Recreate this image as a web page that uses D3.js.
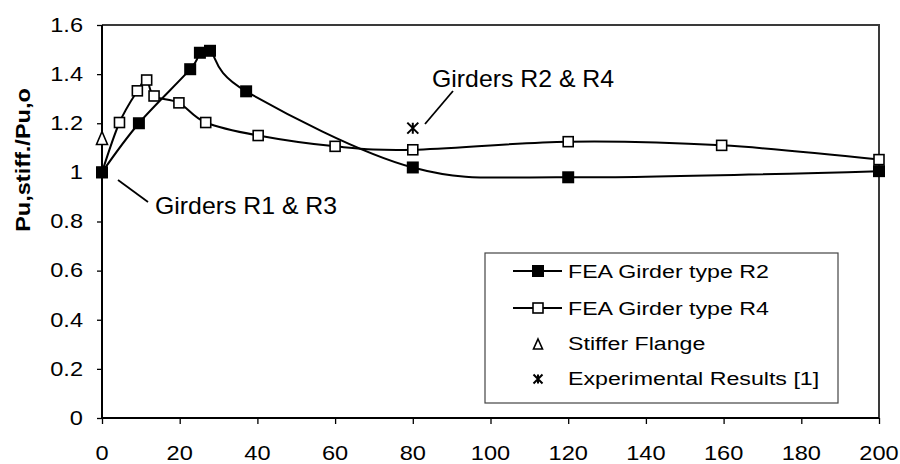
<!DOCTYPE html>
<html>
<head>
<meta charset="utf-8">
<script src="https://cdn.jsdelivr.net/npm/d3@7"></script>
<style>
  html, body { margin: 0; padding: 0; background: #fff; }
  svg { display: block; }
  text { font-family: "Liberation Sans", Arial, Helvetica, sans-serif; fill: #000; }
</style>
</head>
<body>
<svg id="chart" width="900" height="464"></svg>
<script>
// Girder type R2 (filled squares)
const r2X = [0, 9.5, 22.7, 25.2, 27.8, 37.1, 80, 120, 200];
const r2Y = [1.0, 1.2, 1.42, 1.487, 1.495, 1.33, 1.02, 0.98, 1.005];
// Girder type R4 (open squares)
const r4X = [0, 4.5, 9.1, 11.5, 13.4, 19.8, 26.7, 40.2, 60, 80, 120, 159.5, 200];
const r4Y = [1.0, 1.203, 1.332, 1.376, 1.311, 1.283, 1.203, 1.15, 1.106, 1.092, 1.125, 1.11, 1.052];
// Stiffer flange and experimental points
const flangeX = [0];
const flangeY = [1.14];
const expX = [80];
const expY = [1.18];

const xTicks = [0, 20, 40, 60, 80, 100, 120, 140, 160, 180, 200];
const yTicks = [0, 0.2, 0.4, 0.6, 0.8, 1, 1.2, 1.4, 1.6];
const yTitle = "Pu,stiff./Pu,o";
const legendLabels = ["FEA Girder type R2", "FEA Girder type R4", "Stiffer Flange", "Experimental Results [1]"];
const noteR1 = "Girders R1 & R3";
const noteR2 = "Girders R2 & R4";

const svg = d3.select("#chart");
const plotL = 102, plotR = 879, plotT = 25, plotB = 418;

const x = d3.scaleLinear().domain([0, 200]).range([plotL, plotR]);
const y = d3.scaleLinear().domain([0, 1.6]).range([plotB, plotT]);

// text with a horizontal stretch factor
function label(g, px, py, s, opt) {
  const o = Object.assign({ size: 20, sx: 1.15, anchor: "start", weight: "normal", rot: 0, base: "auto" }, opt || {});
  return g.append("text")
    .attr("transform", `translate(${px},${py}) rotate(${o.rot}) scale(${o.sx},1)`)
    .attr("text-anchor", o.anchor)
    .attr("dominant-baseline", o.base)
    .style("font-size", o.size + "px")
    .style("font-weight", o.weight)
    .text(s);
}

// plot area frame (top and right)
svg.append("path")
  .attr("d", `M${plotL},${plotT}H${plotR}V${plotB}`)
  .attr("fill", "none").attr("stroke", "#3a3a3a").attr("stroke-width", 2);

// axes
const xAxis = d3.axisBottom(x).tickValues(xTicks).tickSize(6).tickFormat("");
const yAxis = d3.axisLeft(y).tickValues(yTicks).tickSize(5).tickFormat("");
const gx = svg.append("g").attr("transform", `translate(0,${plotB})`).call(xAxis);
const gy = svg.append("g").attr("transform", `translate(${plotL},0)`).call(yAxis);
[gx, gy].forEach(g => {
  g.select(".domain").attr("stroke", "#000").attr("stroke-width", 2);
  g.selectAll(".tick line").attr("stroke", "#000").attr("stroke-width", 1.3);
});
gx.select(".domain").attr("d", `M${plotL},0H${plotR}`);
gy.select(".domain").attr("d", `M0,${plotT}V${plotB}`);

const tickG = svg.append("g");
xTicks.forEach(v => label(tickG, x(v), 460, String(v), { size: 20, sx: 1.18, anchor: "middle" }));
yTicks.forEach(v => label(tickG, 83, y(v), String(v), { size: 20, sx: 1.18, anchor: "end", base: "central" }));

label(svg, 23, 160, yTitle, { size: 21, sx: 1.12, anchor: "middle", weight: "bold", rot: -90, base: "central" });

// series lines
const line = d3.line().x(d => x(d[0])).y(d => y(d[1])).curve(d3.curveCatmullRom.alpha(0));
const r4 = r4X.map((v, i) => [v, r4Y[i]]);
const r2 = r2X.map((v, i) => [v, r2Y[i]]);
const lines = svg.append("g").attr("fill", "none").attr("stroke", "#000").attr("stroke-width", 2);
lines.append("path").attr("d", line(r4));
lines.append("path").attr("d", line(r2));

// markers
const openSq = 10, fillSq = 12;
svg.append("g").selectAll("rect").data(r4).join("rect")
  .attr("x", d => x(d[0]) - openSq / 2).attr("y", d => y(d[1]) - openSq / 2)
  .attr("width", openSq).attr("height", openSq)
  .attr("fill", "#fff").attr("stroke", "#000").attr("stroke-width", 1.6);
svg.append("g").selectAll("rect").data(r2).join("rect")
  .attr("x", d => x(d[0]) - fillSq / 2).attr("y", d => y(d[1]) - fillSq / 2)
  .attr("width", fillSq).attr("height", fillSq).attr("fill", "#000");

function triangle(g, cx, cy, w, h) {
  g.append("path")
    .attr("d", `M${cx},${cy - h / 2}L${cx + w / 2},${cy + h / 2}L${cx - w / 2},${cy + h / 2}Z`)
    .attr("fill", "#fff").attr("stroke", "#000").attr("stroke-width", 1.6);
}
function asterisk(g, cx, cy, r) {
  g.append("path")
    .attr("d", `M${cx - r},${cy - r}L${cx + r},${cy + r}M${cx + r},${cy - r}L${cx - r},${cy + r}M${cx},${cy - r}V${cy + r}`)
    .attr("stroke", "#000").attr("stroke-width", 2).attr("fill", "none");
}
const pts = svg.append("g");
flangeX.forEach((v, i) => triangle(pts, x(v), y(flangeY[i]), 11, 13));
expX.forEach((v, i) => asterisk(pts, x(v), y(expY[i]), 5.5));

// annotations
const notes = svg.append("g");
notes.append("line").attr("x1", 118).attr("y1", 180).attr("x2", 148).attr("y2", 202)
  .attr("stroke", "#000").attr("stroke-width", 1.8);
label(notes, 155, 214, noteR1, { size: 23, sx: 1.08 });
notes.append("line").attr("x1", 425).attr("y1", 124).attr("x2", 453).attr("y2", 91)
  .attr("stroke", "#000").attr("stroke-width", 1.8);
label(notes, 432, 87, noteR2, { size: 23, sx: 1.08 });

// legend
const lg = svg.append("g");
lg.append("rect").attr("x", 485).attr("y", 253).attr("width", 353).attr("height", 150)
  .attr("fill", "#fff").attr("stroke", "#444").attr("stroke-width", 1.2);
const rowY = [271, 308, 343, 378];
const mx = 538;
lg.append("line").attr("x1", 513).attr("x2", 562).attr("y1", rowY[0]).attr("y2", rowY[0]).attr("stroke", "#000").attr("stroke-width", 2);
lg.append("rect").attr("x", mx - 6).attr("y", rowY[0] - 6).attr("width", 12).attr("height", 12).attr("fill", "#000");
lg.append("line").attr("x1", 513).attr("x2", 562).attr("y1", rowY[1]).attr("y2", rowY[1]).attr("stroke", "#000").attr("stroke-width", 2);
lg.append("rect").attr("x", mx - 5).attr("y", rowY[1] - 5).attr("width", 10).attr("height", 10)
  .attr("fill", "#fff").attr("stroke", "#000").attr("stroke-width", 1.6);
triangle(lg, mx, rowY[2] + 1, 9, 10);
asterisk(lg, mx, rowY[3] + 1, 4.5);
legendLabels.forEach((s, i) => label(lg, 568, rowY[i], s, { size: 19, sx: 1.22, base: "central" }));
</script>
</body>
</html>
